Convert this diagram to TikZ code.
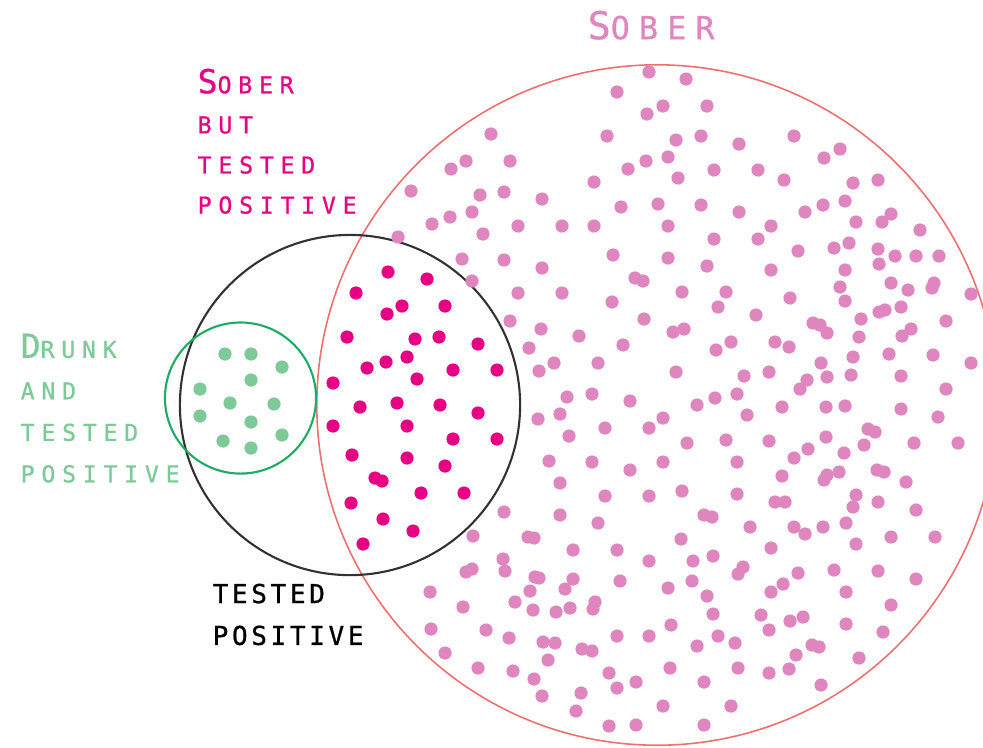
\documentclass[tikz,border=0pt]{standalone}
\usepackage{fontspec}
\usepackage{tikz}
\newfontfamily\lblfont[LetterSpace=29,FakeBold=0.8]{DejaVu Sans Mono}
\newfontfamily\blkfont[LetterSpace=14,FakeBold=0.8]{DejaVu Sans Mono}
\definecolor{sobercolor}{RGB}{224,134,190}
\definecolor{falsecolor}{RGB}{232,0,132}
\definecolor{drunkcolor}{RGB}{125,202,152}
\definecolor{drunkring}{RGB}{30,172,100}
\definecolor{soberring}{RGB}{240,110,110}
\definecolor{testring}{RGB}{50,50,50}
\newcommand{\dotrad}{0.066cm}

\begin{document}
\begin{tikzpicture}[x=0.01cm, y=-0.01cm,
    lbl/.style={anchor=north west, inner sep=0pt, align=left},
    soberdot/.style={fill=sobercolor},
    falsedot/.style={fill=falsecolor},
    drunkdot/.style={fill=drunkcolor}]
    \clip (0,0) rectangle (983,747);

    % the three sets
    \draw[soberring, line width=0.45pt] (657,405) circle[radius=3.4cm];
    \draw[testring, line width=0.6pt] (350,405) circle[radius=1.7cm];
    \draw[drunkring, line width=0.6pt] (240.5,398) circle[radius=0.755cm];

    % sober and tested negative
    \foreach \x/\y in {649/72,686/79,617/92,663/106,647/114,491/134,607/136,676/140,
        466/161,451/169,510/161,628/169,646/161,668/157,678/178,594/182,411/191,
        480/195,504/192,542/199,621/207,658/204,450/217,472/212,432/224,483/234,
        518/226,562/226,594/226,668/226,398/237,613/255,668/258,462/259,504/260,
        542/268,472/281,635/278,643/281,682/292,518/293,562/293,
        707/106,701/136,739/144,794/136,840/149,824/158,714/170,758/170,784/180,
        853/183,878/180,701/205,739/212,805/212,823/205,845/201,856/222,882/222,
        891/214,920/230,771/226,714/239,758/239,798/251,834/248,849/243,878/249,
        895/256,916/256,939/256,879/264,707/266,771/270,845/270,891/283,908/290,
        934/283,932/288,840/287,971/294,726/292,
        612/302,510/321,541/329,644/319,673/332,684/329,579/336,529/348,623/345,
        554/363,598/363,539/371,676/372,567/397,592/394,630/401,538/419,560/414,
        663/418,605/428,649/428,569/436,687/443,549/461,592/462,630/470,663/462,
        560/483,605/496,649/496,682/491,504/512,560/515,598/523,
        790/298,845/301,718/307,756/315,813/323,820/325,827/333,861/319,879/312,
        885/310,901/307,911/329,902/336,859/337,946/321,731/342,716/350,775/342,
        789/347,853/357,889/354,933/355,971/363,821/363,827/377,851/375,769/372,
        744/376,807/380,800/389,737/394,715/398,697/405,782/407,826/407,845/406,
        901/376,946/389,901/409,938/417,747/415,868/429,875/432,726/440,769/441,
        826/437,864/445,914/443,958/443,808/449,794/458,844/453,737/462,782/476,
        827/475,824/480,839/472,877/470,884/472,906/482,737/494,775/502,785/502,
        856/495,853/507,878/502,916/510,704/515,712/517,750/527,794/527,823/527,
        846/523,
        473/536,528/537,534/538,573/550,617/550,681/539,503/559,505/571,472/569,
        466/572,535/577,539/578,573/579,565/589,620/581,649/561,668/588,430/592,
        530/591,463/607,515/602,533/610,556/612,570/608,595/602,593/609,431/629,
        486/630,509/638,543/642,555/643,617/636,649/636,671/625,445/653,582/649,
        592/651,548/660,478/668,513/671,670/668,609/673,636/682,534/679,617/688,
        581/693,542/696,663/706,576/711,609/726,636/725,
        805/534,891/537,935/537,856/544,771/548,693/561,713/556,692/581,743/567,
        738/574,798/573,834/570,878/571,916/579,783/584,771/592,846/592,707/596,
        891/605,713/614,761/615,790/621,803/617,769/630,846/624,883/632,718/636,
        697/646,735/643,812/645,819/647,796/655,859/658,738/668,769/673,789/669,
        704/682,821/685,731/706,704/725}
        \fill[soberdot] (\x,\y) circle[radius=\dotrad];

    % sober but tested positive
    \foreach \x/\y in {388/272,427/279,356/293,402/306,387/314,445/306,347/337,
        415/339,439/337,478/344,407/357,386/362,367/368,453/370,497/370,417/379,
        333/383,360/407,397/403,440/405,478/413,333/426,407/426,453/439,497/439,
        352/455,407/458,445/466,375/478,382/481,421/493,464/493,351/503,383/519,
        413/531,363/544}
        \fill[falsedot] (\x,\y) circle[radius=\dotrad];

    % drunk and tested positive
    \foreach \x/\y in {225/354,251/354,282/367,251/380,200/389,230/403,274/404,
        200/416,251/422,282/435,223/441,251/448}
        \fill[drunkdot] (\x,\y) circle[radius=\dotrad];

    % labels
    \node[lbl, text=sobercolor, font=\lblfont\fontsize{9pt}{12pt}\selectfont]
        (soberlbl) at (587,10) {{\fontsize{10.9pt}{12pt}\selectfont S}OBER};
    \node[lbl, text=falsecolor, font=\lblfont\fontsize{6.6pt}{11.4pt}\selectfont]
        (falselbl) at (197,68) {{\fontsize{9.4pt}{11.4pt}\selectfont S}OBER\\BUT\\TESTED\\POSITIVE};
    \node[lbl, text=drunkcolor, font=\lblfont\fontsize{6.6pt}{11.8pt}\selectfont]
        (drunklbl) at (20,333) {{\fontsize{9.4pt}{11.8pt}\selectfont D}RUNK\\AND\\TESTED\\POSITIVE};
    \node[lbl, text=black, font=\blkfont\fontsize{7.4pt}{11.9pt}\selectfont]
        (testlbl) at (212,583) {TESTED\\POSITIVE};
\end{tikzpicture}
\end{document}
